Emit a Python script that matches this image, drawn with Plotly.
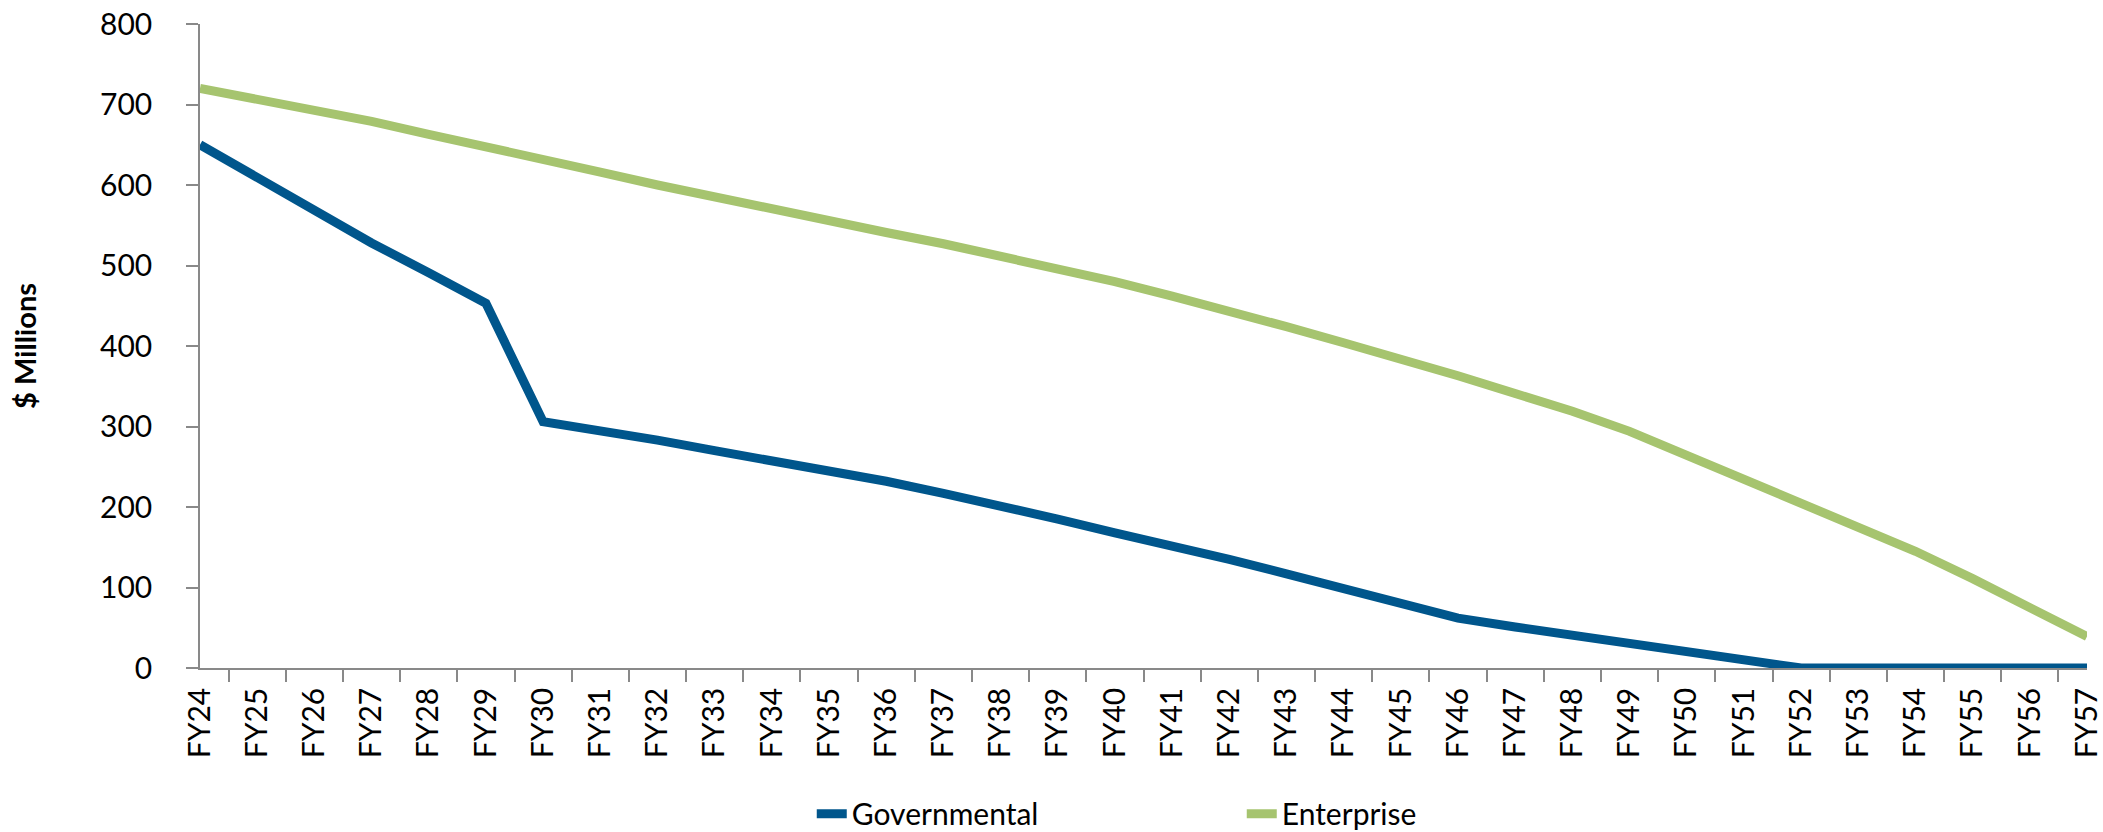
import plotly.graph_objects as go

years = [f"FY{y}" for y in range(24, 58)]

governmental = [650, 609, 569, 528, 491, 453, 306, 295, 283, 270, 258, 245, 232, 217,
                202, 185, 168, 152, 135, 117, 99, 80, 62, 51, 41, 31, 20, 10,
                0, 0, 0, 0, 0, 0]

enterprise = [720, 707, 693, 679, 663, 648, 632, 616, 600, 585, 569, 555, 541, 527,
              512, 497, 480, 462, 444, 424, 404, 384, 363, 341, 319, 294, 264, 235,
              206, 176, 145, 111, 75, 39]

y_ticks = [0, 100, 200, 300, 400, 500, 600, 700, 800]

BLUE = "#00568C"
GREEN = "#A6C46F"
AXIS = "#898989"
FONT = "Lato"

fig = go.Figure()
fig.add_trace(go.Scatter(x=years, y=governmental, name="Governmental", mode="lines",
                         line=dict(color=BLUE, width=9), cliponaxis=False))
fig.add_trace(go.Scatter(x=years, y=enterprise, name="Enterprise", mode="lines",
                         line=dict(color=GREEN, width=9), cliponaxis=False))

fig.update_layout(
    width=2103, height=832,
    margin=dict(l=200, r=0, t=24, b=164),
    paper_bgcolor="white", plot_bgcolor="white",
    font=dict(family=FONT, size=30, color="black"),
    showlegend=True,
    legend=dict(orientation="h", xref="container", yref="container",
                x=0.386, y=0.022, xanchor="left", yanchor="middle",
                entrywidth=385, font=dict(family=FONT, size=30),
                bgcolor="rgba(0,0,0,0)", borderwidth=0,
                tracegroupgap=0),
    xaxis=dict(type="category", showline=True, linecolor=AXIS, linewidth=1.5,
               ticks="outside", tickson="boundaries", ticklen=12, tickcolor=AXIS,
               tickwidth=1.5, tickangle=-90, showgrid=False, zeroline=False,
               ticklabelstandoff=6, layer="below traces",
               tickfont=dict(family=FONT, size=30)),
    yaxis=dict(range=[0, 800], tickvals=y_ticks, showline=True, linecolor=AXIS,
               linewidth=1.5, ticks="outside", ticklen=12, tickcolor=AXIS,
               tickwidth=1.5, showgrid=False, zeroline=False,
               ticklabelstandoff=28, layer="below traces",
               tickfont=dict(family=FONT, size=30),
               title=dict(text="<b>$ Millions</b>", standoff=55,
                          font=dict(family=FONT, size=29))),
)

fig.write_html("out.html")
